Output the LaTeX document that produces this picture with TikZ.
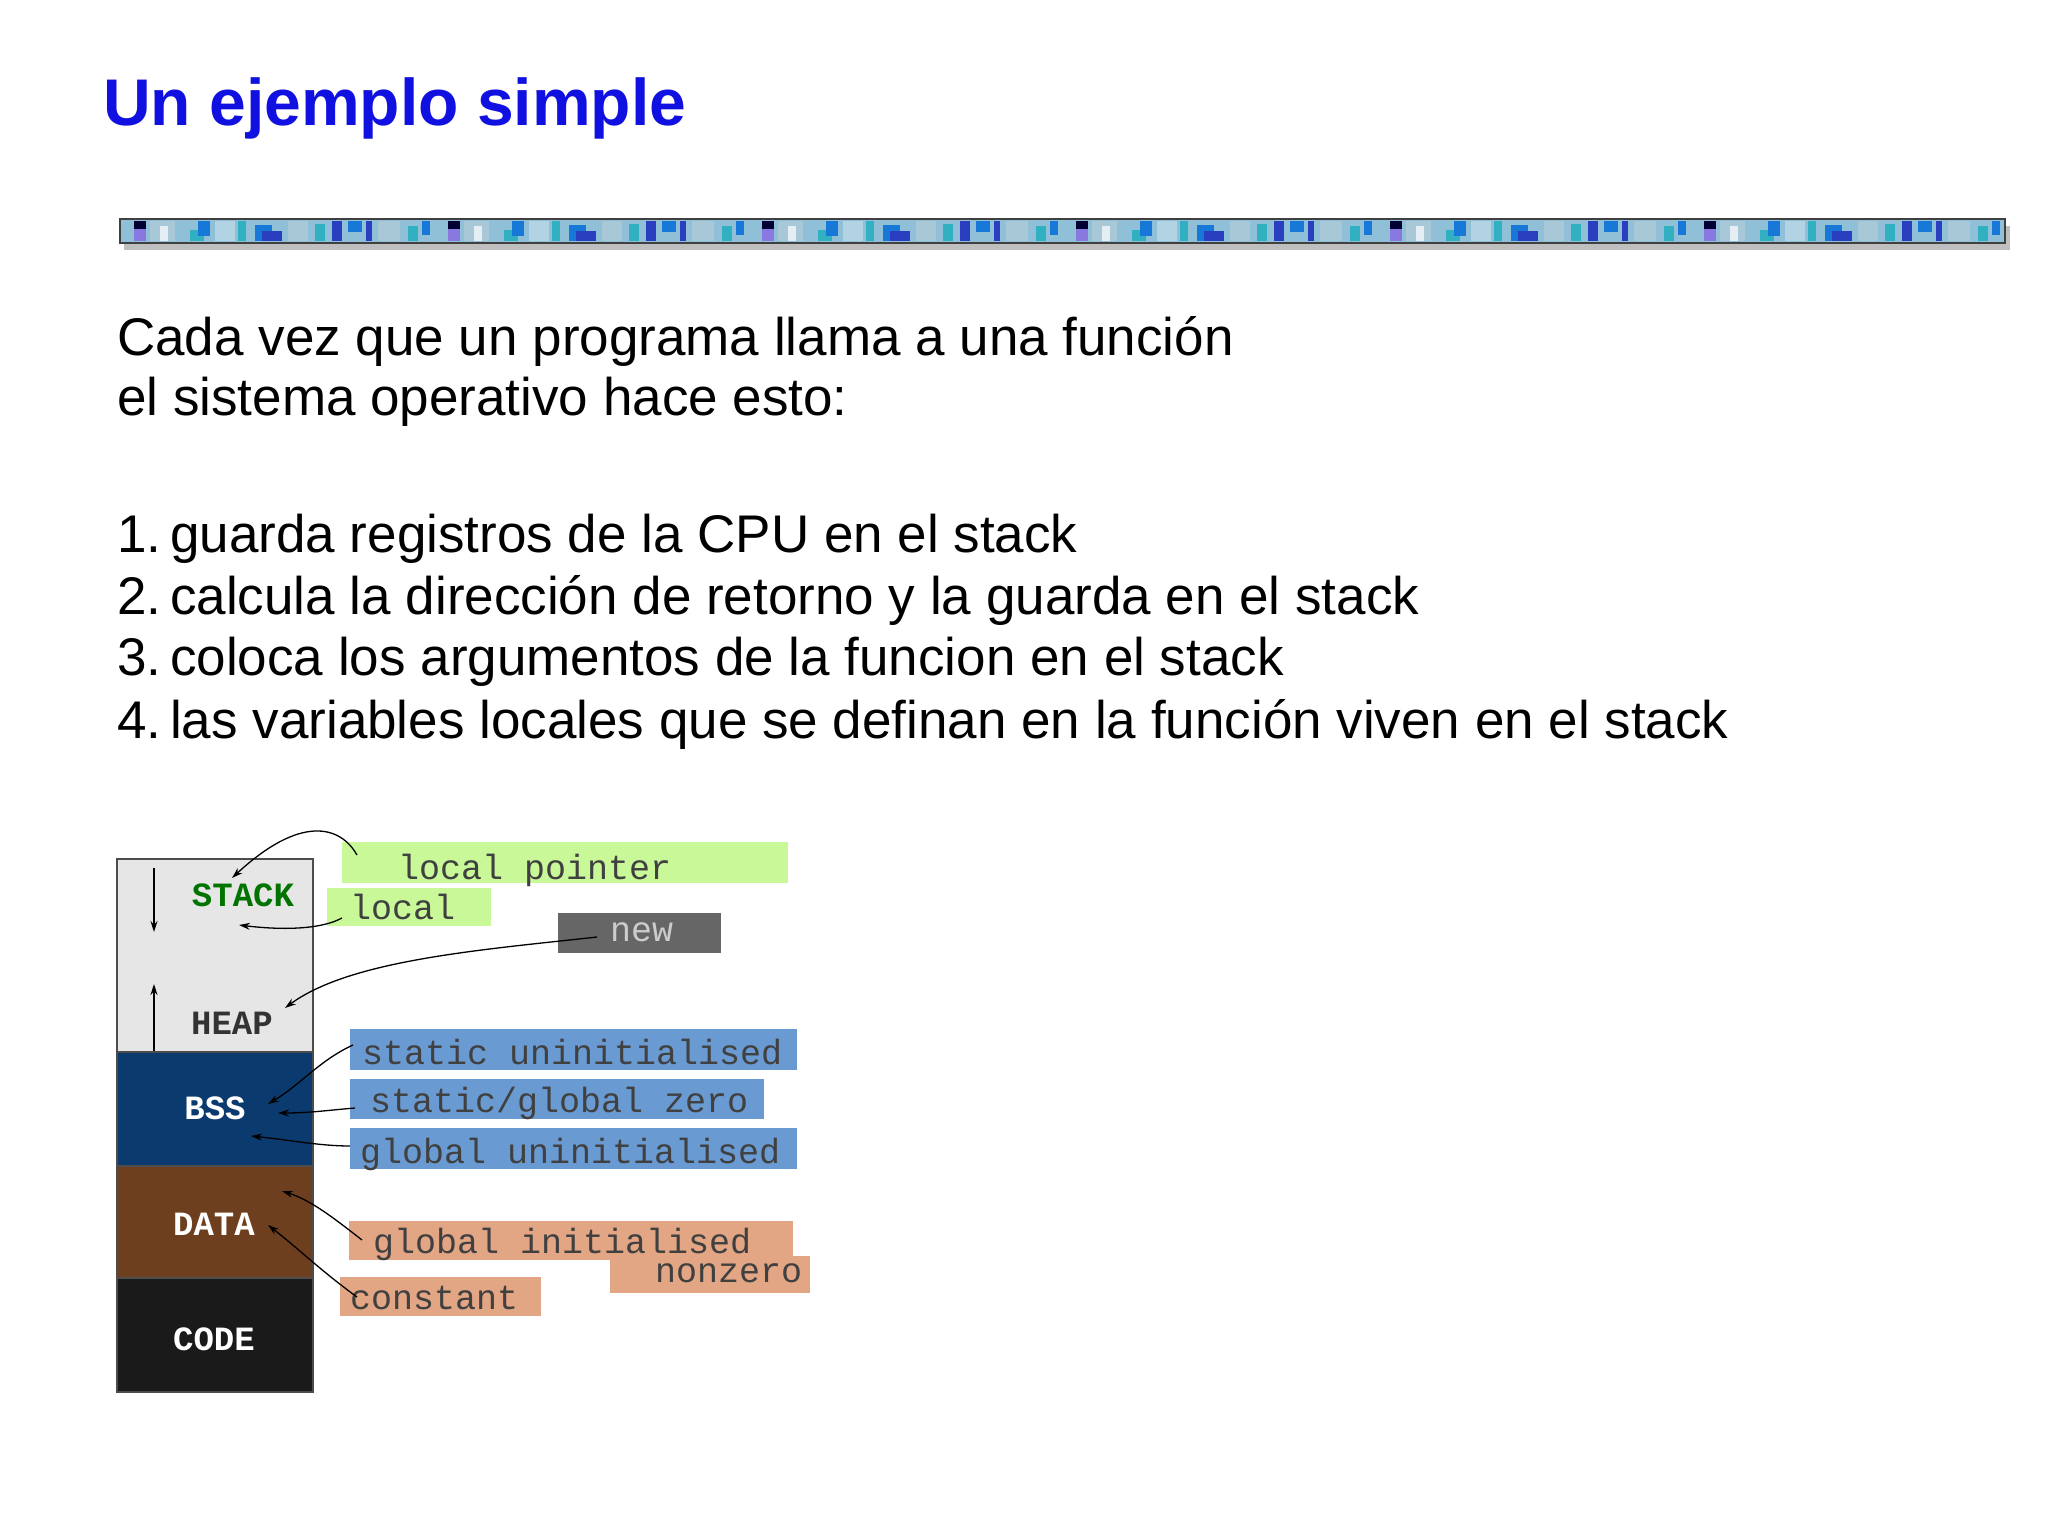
\documentclass[tikz,border=0pt]{standalone}
\usepackage{fontspec}
\usetikzlibrary{arrows.meta}
\setmainfont{Liberation Sans}
\newfontfamily\monof{Liberation Mono}
\definecolor{ttl}{HTML}{1010E0}
\definecolor{grn}{HTML}{C8F898}
\definecolor{blu}{HTML}{6A9AD2}
\definecolor{sal}{HTML}{E2A684}
\definecolor{bss}{HTML}{0B3A6E}
\definecolor{dat}{HTML}{6E3F1E}
\definecolor{cod}{HTML}{1A1A1A}
\definecolor{hp}{HTML}{E6E6E6}
\definecolor{newc}{HTML}{666666}
\definecolor{b1}{HTML}{8FC0D8}
\definecolor{b2}{HTML}{2A3FC0}
\definecolor{b3}{HTML}{30B0C0}
\definecolor{b4}{HTML}{8878E0}
\definecolor{b5}{HTML}{A8C8D8}
\definecolor{b6}{HTML}{1878D8}
\begin{document}
\begin{tikzpicture}[x=1pt,y=-1pt,
  seg/.style={draw=black!70,line width=1.5pt,minimum width=196pt,anchor=north west,inner sep=0pt},
  seglab/.style={font=\monof\bfseries\fontsize{34}{34}\selectfont},
  lab/.style={anchor=north west,inner sep=0pt,font=\monof\fontsize{35}{35}\selectfont,text=black!75},
  body/.style={anchor=base west,inner sep=0pt,font=\fontsize{53}{60}\selectfont},
  con/.style={-{Stealth[length=11pt,width=7pt]},line width=1.3pt}]
\useasboundingbox (0,0) rectangle (2048,1536);
\fill[white] (0,0) rectangle (2048,1536);
\node[anchor=base west,inner sep=0pt,text=ttl,font=\bfseries\fontsize{66}{66}\selectfont] (title) at (103,126) {Un ejemplo simple};
% bar
\fill[black!25] (124,226) rectangle (2010,250);
\fill[b1] (120,219) rectangle (2005,243);
\foreach \i in {0,...,5}{
  \begin{scope}[shift={(120+\i*314,0)}]
  \fill[b4] (14,221) rectangle (26,241); \fill[black!80!blue] (14,221) rectangle (26,229);
  \fill[b5] (30,221) rectangle (55,241);
  \fill[white!70!b5] (40,226) rectangle (48,241);
  \fill[b3] (70,230) rectangle (84,241);
  \fill[b6] (78,221) rectangle (90,236);
  \fill[b1!70!white] (95,221) rectangle (115,241);
  \fill[b3] (118,221) rectangle (126,241);
  \fill[b6] (135,225) rectangle (152,241); \fill[b2] (142,231) rectangle (162,241);
  \fill[b5] (168,221) rectangle (188,241);
  \fill[b3] (195,224) rectangle (205,241);
  \fill[b2] (212,221) rectangle (222,241);
  \fill[b6] (228,221) rectangle (242,232);
  \fill[b2] (246,221) rectangle (252,241);
  \fill[b5] (258,221) rectangle (280,241);
  \fill[b3] (288,226) rectangle (298,241);
  \fill[b6] (302,221) rectangle (310,235);
  \end{scope}}
\draw[black!75,line width=2pt] (120,219) rectangle (2005,243);
% text
\node[body] (l1) at (117,355) {Cada vez que un programa llama a una función};
\node[body] (l2) at (117,415) {el sistema operativo hace esto:};
\node[body] (i1) at (117,552) {1.\,guarda registros de la CPU en el stack};
\node[body] (i2) at (117,614) {2.\,calcula la dirección de retorno y la guarda en el stack};
\node[body] (i3) at (117,675) {3.\,coloca los argumentos de la funcion en el stack};
\node[body] (i4) at (117,738) {4.\,las variables locales que se definan en la función viven en el stack};
% memory column
\node[seg,fill=hp,minimum height=193pt] (sh) at (116,858) {};
\node[seg,fill=bss,minimum height=114pt] (bss) at (116,1051) {};
\node[seg,fill=dat,minimum height=112pt] (dat) at (116,1165) {};
\node[seg,fill=cod,minimum height=114pt] (cod) at (116,1277) {};
\node[seglab,text=green!45!black] (tstack) at (243,895) {STACK};
\node[seglab,text=black!80] (theap) at (232,1023) {HEAP};
\node[seglab,text=white] (tbss) at (215,1108) {BSS};
\node[seglab,text=white] (tdat) at (214,1224) {DATA};
\node[seglab,text=white] (tcod) at (214,1339) {CODE};
\coordinate (d1) at (154,868); \coordinate (d2) at (154,932);
\coordinate (u1) at (154,1051); \coordinate (u2) at (154,984);
\draw[con] (d1) -- (d2);
\draw[con] (u1) -- (u2);
% label boxes
\fill[grn] (342,842) rectangle (788,883);
\node[lab] (lp) at (398,854) {local pointer};
\fill[grn] (327,888) rectangle (491,926);
\node[lab] (lo) at (350,894) {local};
\fill[newc] (558,913) rectangle (721,953);
\node[lab,text=black!20] (nw) at (610,922) {new};
\fill[blu] (350,1029) rectangle (797,1070);
\node[lab] (su) at (362,1039) {static uninitialised};
\fill[blu] (350,1079) rectangle (764,1119);
\node[lab] (sz) at (370,1087) {static/global zero};
\fill[blu] (350,1128) rectangle (797,1169);
\node[lab] (gu) at (360,1138) {global uninitialised};
\fill[sal] (349,1221) rectangle (793,1260);
\node[lab] (gi) at (373,1228) {global initialised};
\fill[sal] (610,1256) rectangle (810,1293);
\node[lab] (nz) at (655,1263) {nonzero};
\fill[sal] (340,1277) rectangle (541,1316);
\node[lab] (cs) at (350,1286) {constant};
% connectors
\coordinate (alp) at (357,855); \coordinate (elp) at (232,878);
\coordinate (alo) at (342,918); \coordinate (elo) at (239,925);
\coordinate (anw) at (597,937); \coordinate (enw) at (285,1008);
\coordinate (asu) at (353,1045); \coordinate (esu) at (268,1104);
\coordinate (asz) at (355,1108); \coordinate (esz) at (278,1113);
\coordinate (agu) at (350,1146); \coordinate (egu) at (251,1136);
\coordinate (agi) at (362,1240); \coordinate (egi) at (282,1191);
\coordinate (acs) at (357,1297); \coordinate (ecs) at (268,1225);
\draw[con] (alp) .. controls (340,825) and (300,815) .. (elp);
\draw[con] (alo) .. controls (320,930) and (280,930) .. (elo);
\draw[con] (anw) .. controls (480,950) and (350,960) .. (enw);
\draw[con] (asu) .. controls (320,1060) and (300,1085) .. (esu);
\draw[con] (asz) .. controls (330,1110) and (310,1113) .. (esz);
\draw[con] (agu) .. controls (320,1146) and (290,1140) .. (egu);
\draw[con] (agi) .. controls (330,1215) and (310,1200) .. (egi);
\draw[con] (acs) .. controls (320,1270) and (300,1250) .. (ecs);
\end{tikzpicture}
\end{document}
